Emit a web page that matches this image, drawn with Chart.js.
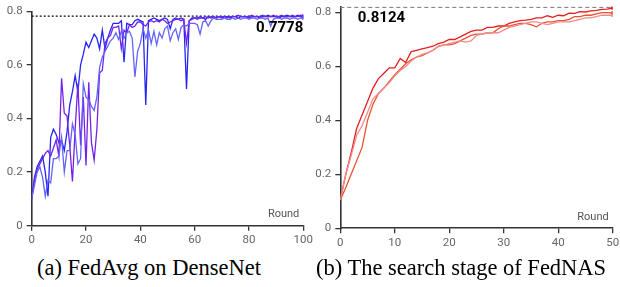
<!DOCTYPE html>
<html>
<head>
<meta charset="utf-8">
<title>FedAvg vs FedNAS</title>
<script src="https://cdn.jsdelivr.net/npm/chart.js@4"></script>
<style>
  body { margin: 0; background: #fff; width: 620px; height: 287px; position: relative; overflow: hidden; }
  canvas { position: absolute; top: 0; }
  #chartA { left: 0; }
  #chartB { left: 310px; }
  .caption { position: absolute; top: 255px; font-family: "Liberation Serif", "Times New Roman", serif; font-size: 22.5px; line-height: 26px; color: #000; white-space: nowrap; }
</style>
</head>
<body>
<canvas id="chartA" width="320" height="250"></canvas>
<canvas id="chartB" width="310" height="250"></canvas>
<div class="caption" style="left:37px">(a) FedAvg on DenseNet</div>
<div class="caption" style="left:316px">(b) The search stage of FedNAS</div>

<script>
// ---- data: (a) FedAvg on DenseNet, rounds 0..100 ----
const roundsA = Array.from({ length: 101 }, (_, i) => i);
const avgRun1 = [
  0.10, 0.18, 0.22, 0.24, 0.26, 0.20, 0.11, 0.33, 0.36, 0.34,
  0.31, 0.32, 0.28, 0.35, 0.45, 0.50, 0.56, 0.50, 0.60, 0.64,
  0.685, 0.665, 0.69, 0.715, 0.70, 0.66, 0.73, 0.66, 0.70, 0.73,
  0.755, 0.755, 0.755, 0.765, 0.61, 0.755, 0.75, 0.75, 0.765, 0.77,
  0.765, 0.76, 0.45, 0.765, 0.77, 0.775, 0.77, 0.765, 0.77, 0.775,
  0.77, 0.735, 0.77, 0.775, 0.77, 0.775, 0.77, 0.51, 0.765, 0.775,
  0.775, 0.775, 0.78, 0.775, 0.77, 0.78, 0.775, 0.78, 0.775, 0.78,
  0.775, 0.78, 0.78, 0.775, 0.78, 0.78, 0.775, 0.78, 0.78, 0.78,
  0.775, 0.78, 0.78, 0.78, 0.775, 0.78, 0.78, 0.785, 0.78, 0.78,
  0.78, 0.775, 0.78, 0.78, 0.785, 0.78, 0.78, 0.78, 0.785, 0.78,
  0.778
];
const avgRun2 = [
  0.10, 0.17, 0.21, 0.23, 0.25, 0.27, 0.28, 0.26, 0.29, 0.32,
  0.26, 0.55, 0.42, 0.41, 0.30, 0.165, 0.36, 0.53, 0.30, 0.48,
  0.225, 0.535, 0.31, 0.245, 0.36, 0.57, 0.58, 0.68, 0.70, 0.71,
  0.74, 0.74, 0.745, 0.66, 0.73, 0.72, 0.75, 0.74, 0.745, 0.76,
  0.76, 0.75, 0.745, 0.76, 0.765, 0.76, 0.765, 0.76, 0.77, 0.765,
  0.755, 0.76, 0.765, 0.77, 0.77, 0.765, 0.77, 0.68, 0.765, 0.77,
  0.775, 0.77, 0.775, 0.775, 0.78, 0.775, 0.78, 0.78, 0.775, 0.78,
  0.78, 0.78, 0.775, 0.78, 0.78, 0.78, 0.785, 0.78, 0.78, 0.78,
  0.78, 0.785, 0.78, 0.78, 0.78, 0.785, 0.78, 0.78, 0.78, 0.785,
  0.78, 0.78, 0.785, 0.78, 0.78, 0.78, 0.785, 0.78, 0.78, 0.785,
  0.782
];
const avgRun3 = [
  0.10, 0.15, 0.20, 0.22, 0.18, 0.11, 0.17, 0.16, 0.25, 0.25,
  0.26, 0.33, 0.20, 0.28, 0.28, 0.38, 0.34, 0.23, 0.25, 0.53,
  0.48, 0.47, 0.445, 0.43, 0.48, 0.59, 0.63, 0.65, 0.67, 0.69,
  0.70, 0.72, 0.695, 0.725, 0.70, 0.72, 0.725, 0.70, 0.555, 0.65,
  0.68, 0.735, 0.70, 0.73, 0.68, 0.725, 0.675, 0.72, 0.70, 0.735,
  0.745, 0.69, 0.72, 0.735, 0.695, 0.74, 0.75, 0.745, 0.755, 0.755,
  0.755, 0.75, 0.715, 0.76, 0.765, 0.745, 0.765, 0.775, 0.77, 0.77,
  0.77, 0.775, 0.77, 0.77, 0.775, 0.77, 0.775, 0.77, 0.775, 0.775,
  0.77, 0.775, 0.775, 0.77, 0.775, 0.775, 0.77, 0.775, 0.745, 0.77,
  0.775, 0.775, 0.77, 0.775, 0.775, 0.77, 0.775, 0.775, 0.77, 0.775,
  0.775
];
const bestA = '0.7778';
const refLineA = 0.782;
const xTicksA = [0, 20, 40, 60, 80, 100];
const yTicksA = [0, 0.2, 0.4, 0.6, 0.8];

// ---- data: (b) search stage of FedNAS, rounds 0..50 ----
const roundsB = Array.from({ length: 51 }, (_, i) => i);
const nasRun1 = [
  0.105, 0.20, 0.28, 0.37, 0.42, 0.47, 0.52, 0.555, 0.575, 0.595,
  0.595, 0.63, 0.615, 0.655, 0.66, 0.665, 0.67, 0.675, 0.685, 0.69,
  0.70, 0.70, 0.71, 0.72, 0.73, 0.735, 0.735, 0.745, 0.745, 0.75,
  0.75, 0.76, 0.765, 0.77, 0.772, 0.775, 0.78, 0.78, 0.788, 0.782,
  0.79, 0.788, 0.798, 0.797, 0.803, 0.802, 0.806, 0.808, 0.812, 0.813,
  0.817
];
const nasRun2 = [
  0.105, 0.15, 0.20, 0.25, 0.30, 0.40, 0.46, 0.50, 0.52, 0.545,
  0.57, 0.59, 0.61, 0.625, 0.635, 0.64, 0.65, 0.66, 0.675, 0.68,
  0.68, 0.685, 0.695, 0.705, 0.715, 0.72, 0.72, 0.725, 0.725, 0.74,
  0.75, 0.75, 0.755, 0.76, 0.76, 0.755, 0.747, 0.76, 0.765, 0.765,
  0.77, 0.77, 0.775, 0.785, 0.785, 0.79, 0.79, 0.795, 0.80, 0.80,
  0.798
];
const nasRun3 = [
  0.105, 0.20, 0.27, 0.345, 0.38, 0.43, 0.48, 0.50, 0.52, 0.54,
  0.565, 0.585, 0.60, 0.62, 0.635, 0.645, 0.65, 0.66, 0.675, 0.68,
  0.685, 0.69, 0.695, 0.69, 0.695, 0.715, 0.72, 0.725, 0.725, 0.725,
  0.735, 0.745, 0.75, 0.755, 0.76, 0.765, 0.765, 0.76, 0.755, 0.76,
  0.765, 0.765, 0.765, 0.77, 0.775, 0.78, 0.78, 0.785, 0.79, 0.79,
  0.79
];
const bestB = '0.8124';
const refLineB = 0.819;
const xTicksB = [0, 10, 20, 30, 40, 50];
const yTicksB = [0, 0.2, 0.4, 0.6, 0.8];

const AXIS_COLOR = '#333';
const TICK_COLOR = '#666';

/**
 * Turn a series into {x, y} points for a linear x scale
 */
function toPoints(xs, ys) {
  return ys.map((v, i) => ({ x: xs[i], y: v }));
}

// draws the bold best value and the "Round" axis name inside the plot
const notesPlugin = {
  id: 'notes',
  afterDatasetsDraw(chart, args, opts) {
    const ctx = chart.ctx;
    const { x, y } = chart.scales;
    ctx.save();
    ctx.fillStyle = '#000';
    ctx.font = 'bold 15px Roboto';
    ctx.textAlign = opts.bestAlign;
    ctx.textBaseline = 'middle';
    ctx.fillText(opts.bestText, x.getPixelForValue(opts.bestX), y.getPixelForValue(opts.bestY));

    ctx.fillStyle = '#555';
    ctx.font = '11px Roboto';
    ctx.textAlign = 'right';
    ctx.fillText('Round', chart.chartArea.right - 4, chart.chartArea.bottom - 11);
    ctx.restore();
  }
};

/**
 * Build a line chart config for one panel
 */
function buildConfig(p) {
  const lastIdx = p.xs.length - 1;
  const datasets = p.series.map((s) => ({
    data: toPoints(p.xs, s.data),
    borderColor: s.color,
    backgroundColor: s.color,
    borderWidth: 1.3,
    pointRadius: (c) => (c.dataIndex === lastIdx ? 2 : 0),
    pointBorderWidth: 0,
    tension: 0
  }));
  // reference line for the best accuracy
  datasets.push({
    data: [{ x: p.xs[0], y: p.refLine }, { x: p.xs[lastIdx], y: p.refLine }],
    borderColor: p.refColor,
    borderWidth: 1.2,
    borderDash: p.refDash,
    pointRadius: 0
  });

  return {
    type: 'line',
    data: { datasets },
    options: {
      responsive: false,
      animation: false,
      devicePixelRatio: 1,
      layout: { padding: p.padding },
      plugins: {
        legend: { display: false },
        tooltip: { enabled: false },
        notes: p.notes
      },
      scales: {
        x: {
          type: 'linear',
          min: p.xs[0],
          max: p.xs[lastIdx],
          afterBuildTicks: (s) => { s.ticks = p.xTicks.map((v) => ({ value: v })); },
          afterFit: (s) => { s.height = p.xHeight; s.paddingLeft = 0; s.paddingRight = 0; },
          grid: { drawOnChartArea: false, tickLength: 5, color: AXIS_COLOR, lineWidth: 1.3 },
          border: { color: AXIS_COLOR, width: 1.6 },
          ticks: { color: TICK_COLOR, font: { family: 'Roboto', size: 11.5 }, padding: 3, maxRotation: 0 }
        },
        y: {
          min: 0,
          max: p.yMax,
          afterBuildTicks: (s) => { s.ticks = p.yTicks.map((v) => ({ value: v })); },
          afterFit: (s) => { s.width = p.yWidth; s.paddingTop = 0; s.paddingBottom = 0; },
          grid: { drawOnChartArea: false, tickLength: 5, color: AXIS_COLOR, lineWidth: 1.3 },
          border: { color: AXIS_COLOR, width: 1.6 },
          ticks: {
            color: TICK_COLOR,
            font: { family: 'Roboto', size: 11.5 },
            padding: 4,
            callback: (v) => String(Math.round(v * 10) / 10)
          }
        }
      }
    },
    plugins: [notesPlugin]
  };
}

new Chart(document.getElementById('chartA'), buildConfig({
  xs: roundsA,
  series: [
    { data: avgRun3, color: '#6464fa' },
    { data: avgRun2, color: '#7422ea' },
    { data: avgRun1, color: '#2626f4' }
  ],
  refLine: refLineA,
  refColor: '#000',
  refDash: [2, 2],
  xTicks: xTicksA,
  yTicks: yTicksA,
  yMax: 0.8,
  yWidth: 31.7,
  xHeight: 24.3,
  padding: { left: 0, right: 16.7, top: 11.3, bottom: 0 },
  notes: { bestText: bestA, bestX: 100, bestY: 0.738, bestAlign: 'right' }
}));

new Chart(document.getElementById('chartB'), buildConfig({
  xs: roundsB,
  series: [
    { data: nasRun3, color: '#f28c8c' },
    { data: nasRun2, color: '#e8522e' },
    { data: nasRun1, color: '#e41f22' }
  ],
  refLine: refLineB,
  refColor: '#888',
  refDash: [4, 3],
  xTicks: xTicksB,
  yTicks: yTicksB,
  yMax: 0.822,
  yWidth: 30.3,
  xHeight: 21.7,
  padding: { left: 0, right: 7.3, top: 6.6, bottom: 0 },
  notes: { bestText: bestB, bestX: 3.2, bestY: 0.778, bestAlign: 'left' }
}));
</script>
</body>
</html>
